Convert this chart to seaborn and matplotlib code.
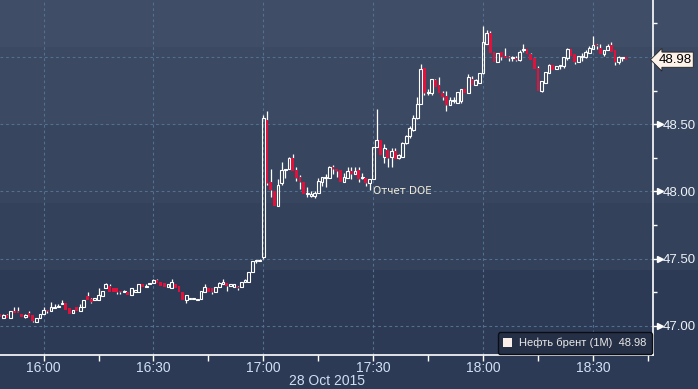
import matplotlib.pyplot as plt
import matplotlib.ticker as mticker
import numpy as np
import pandas as pd
import seaborn as sns
from matplotlib.patches import Patch

# one-minute candles of Brent (1M), 28 Oct 2015, first bar at 15:48
start_time = "2015-10-28 15:48"

open_ = [
    47.09, 47.06, 47.08, 47.06, 47.11, 47.11, 47.09, 47.07, 47.10, 47.08,
    47.03, 47.06, 47.09, 47.12, 47.11, 47.13, 47.14, 47.16, 47.17, 47.13,
    47.10, 47.14, 47.11, 47.14, 47.22, 47.20, 47.19, 47.19, 47.22, 47.28,
    47.30, 47.28, 47.28, 47.26, 47.25, 47.25, 47.23, 47.255, 47.25, 47.31,
    47.29, 47.31, 47.32, 47.34, 47.33, 47.32, 47.29, 47.28, 47.31, 47.30,
    47.25, 47.19, 47.20, 47.20, 47.19, 47.20, 47.25, 47.28, 47.28, 47.25,
    47.29, 47.31, 47.32, 47.30, 47.29, 47.29, 47.29, 47.33, 47.33, 47.40,
    47.48, 47.48, 47.51, 48.53, 48.07, 48.00, 47.89, 48.06, 48.16, 48.17,
    48.25, 48.16, 48.11, 48.07, 47.98, 47.97, 47.97, 47.99, 48.07, 48.10,
    48.10, 48.18, 48.17, 48.16, 48.07, 48.10, 48.15, 48.13, 48.16, 48.10,
    48.10, 48.06, 48.09, 48.33, 48.38, 48.26, 48.31, 48.26, 48.30, 48.25,
    48.26, 48.36, 48.41, 48.46, 48.55, 48.65, 48.92, 48.73, 48.73, 48.83,
    48.79, 48.73, 48.71, 48.64, 48.67, 48.66, 48.67, 48.76, 48.73, 48.84,
    48.79, 48.81, 48.88, 49.10, 49.18, 49.04, 48.96, 49.04, 49.01, 49.00,
    48.99, 48.99, 48.98, 49.05, 49.06, 49.02, 48.99, 48.92, 48.75, 48.81,
    48.88, 48.94, 48.91, 48.93, 48.93, 48.99, 49.06, 49.02, 48.96, 49.00,
    49.00, 49.03, 49.06, 49.09, 49.07, 49.02, 49.05, 49.09, 49.05, 48.96,
    48.99, 49.00,
]
high = [
    47.09, 47.09, 47.09, 47.11, 47.14, 47.14, 47.09, 47.09, 47.11, 47.08,
    47.06, 47.09, 47.14, 47.12, 47.18, 47.16, 47.16, 47.19, 47.17, 47.13,
    47.12, 47.14, 47.16, 47.19, 47.25, 47.21, 47.21, 47.28, 47.26, 47.32,
    47.31, 47.28, 47.28, 47.26, 47.27, 47.25, 47.28, 47.27, 47.31, 47.31,
    47.31, 47.32, 47.35, 47.35, 47.33, 47.32, 47.31, 47.35, 47.31, 47.30,
    47.25, 47.23, 47.21, 47.21, 47.20, 47.26, 47.31, 47.28, 47.28, 47.29,
    47.33, 47.35, 47.32, 47.31, 47.31, 47.30, 47.33, 47.35, 47.40, 47.48,
    47.49, 47.50, 48.57, 48.60, 48.17, 48.00, 48.09, 48.22, 48.17, 48.26,
    48.28, 48.18, 48.12, 48.07, 48.03, 48.00, 48.00, 48.10, 48.11, 48.13,
    48.19, 48.20, 48.17, 48.16, 48.14, 48.18, 48.18, 48.18, 48.18, 48.14,
    48.10, 48.09, 48.33, 48.61, 48.38, 48.35, 48.31, 48.32, 48.32, 48.28,
    48.37, 48.42, 48.49, 48.57, 48.70, 48.95, 48.92, 48.76, 48.84, 48.84,
    48.85, 48.75, 48.75, 48.70, 48.70, 48.74, 48.76, 48.76, 48.87, 48.86,
    48.84, 48.88, 49.23, 49.20, 49.19, 49.04, 49.03, 49.04, 49.07, 49.01,
    49.01, 49.01, 49.05, 49.10, 49.06, 49.03, 48.99, 48.93, 48.82, 48.89,
    48.95, 48.94, 48.93, 48.94, 49.00, 49.07, 49.06, 49.02, 49.01, 49.03,
    49.05, 49.08, 49.16, 49.10, 49.10, 49.05, 49.10, 49.11, 49.05, 49.01,
    49.00, 49.00,
]
low = [
    47.07, 47.06, 47.06, 47.06, 47.10, 47.10, 47.07, 47.06, 47.07, 47.03,
    47.03, 47.06, 47.09, 47.10, 47.11, 47.13, 47.14, 47.16, 47.12, 47.09,
    47.10, 47.11, 47.11, 47.14, 47.19, 47.17, 47.19, 47.19, 47.22, 47.28,
    47.25, 47.25, 47.24, 47.24, 47.25, 47.23, 47.23, 47.25, 47.25, 47.29,
    47.29, 47.31, 47.32, 47.32, 47.30, 47.29, 47.29, 47.28, 47.28, 47.25,
    47.19, 47.17, 47.20, 47.20, 47.19, 47.20, 47.25, 47.25, 47.24, 47.25,
    47.29, 47.31, 47.26, 47.30, 47.29, 47.27, 47.29, 47.33, 47.33, 47.40,
    47.47, 47.48, 47.50, 48.05, 47.96, 47.89, 47.89, 48.05, 48.10, 48.17,
    48.15, 48.08, 48.02, 47.98, 47.96, 47.96, 47.95, 47.99, 48.04, 48.03,
    48.10, 48.13, 48.11, 48.07, 48.07, 48.10, 48.09, 48.13, 48.07, 48.09,
    48.04, 48.01, 48.09, 48.33, 48.27, 48.21, 48.18, 48.18, 48.24, 48.24,
    48.26, 48.35, 48.40, 48.45, 48.54, 48.65, 48.72, 48.72, 48.72, 48.78,
    48.73, 48.68, 48.60, 48.64, 48.66, 48.66, 48.66, 48.73, 48.73, 48.79,
    48.79, 48.81, 48.87, 49.10, 49.03, 48.96, 48.96, 48.98, 48.99, 48.97,
    48.97, 48.97, 48.97, 49.04, 49.02, 48.98, 48.91, 48.75, 48.74, 48.81,
    48.88, 48.90, 48.91, 48.91, 48.92, 48.98, 49.01, 48.95, 48.96, 48.97,
    48.99, 49.03, 49.06, 49.06, 49.02, 49.01, 49.05, 49.04, 48.94, 48.95,
    48.97, 48.98,
]
close = [
    47.07, 47.08, 47.06, 47.11, 47.10, 47.10, 47.07, 47.08, 47.07, 47.04,
    47.06, 47.09, 47.12, 47.11, 47.14, 47.14, 47.15, 47.17, 47.12, 47.09,
    47.12, 47.11, 47.14, 47.19, 47.19, 47.18, 47.21, 47.23, 47.26, 47.31,
    47.25, 47.25, 47.25, 47.25, 47.26, 47.23, 47.28, 47.265, 47.31, 47.29,
    47.30, 47.32, 47.34, 47.32, 47.30, 47.29, 47.31, 47.33, 47.28, 47.25,
    47.19, 47.23, 47.21, 47.205, 47.20, 47.26, 47.29, 47.25, 47.25, 47.29,
    47.32, 47.33, 47.30, 47.31, 47.31, 47.28, 47.33, 47.34, 47.40, 47.48,
    47.49, 47.49, 48.55, 48.06, 48.01, 47.89, 48.05, 48.16, 48.17, 48.25,
    48.15, 48.10, 48.07, 47.98, 47.99, 47.98, 47.99, 48.08, 48.11, 48.11,
    48.18, 48.17, 48.15, 48.07, 48.11, 48.15, 48.13, 48.15, 48.09, 48.11,
    48.06, 48.09, 48.33, 48.38, 48.27, 48.32, 48.25, 48.30, 48.24, 48.27,
    48.36, 48.41, 48.47, 48.55, 48.65, 48.91, 48.73, 48.74, 48.84, 48.78,
    48.73, 48.70, 48.64, 48.68, 48.68, 48.74, 48.76, 48.73, 48.85, 48.79,
    48.83, 48.88, 49.11, 49.18, 49.03, 48.96, 49.03, 49.00, 48.99, 48.99,
    49.00, 48.98, 49.04, 49.06, 49.02, 48.98, 48.91, 48.75, 48.82, 48.89,
    48.94, 48.90, 48.93, 48.94, 49.00, 49.06, 49.01, 48.96, 49.01, 49.01,
    49.04, 49.07, 49.09, 49.08, 49.02, 49.05, 49.08, 49.04, 48.96, 49.00,
    49.00, 48.98,
]

x_ticks = ["16:00", "16:30", "17:00", "17:30", "18:00", "18:30"]
y_ticks = [47.0, 47.5, 48.0, 48.5, 49.0]
y_labels = ["47.00", "47.50", "48.00", "48.50", ""]
series_name = "Нефть брент (1M)"
last_price = "48.98"
date_label = "28 Oct 2015"
event_label = "Отчет DOE"
event_time = "17:30"

sns.set_theme(style="dark")
plt.rcParams["font.family"] = ["Liberation Sans", "DejaVu Sans"]

df = pd.DataFrame({"open": open_, "high": high, "low": low, "close": close})
df["time"] = pd.date_range(start_time, periods=len(df), freq="min")
base = pd.Timestamp("2015-10-28 16:00")
df["x"] = (df["time"] - base).dt.total_seconds() / 60
df["up"] = df["close"] >= df["open"]
df["top"] = df[["open", "close"]].max(axis=1)
df["bot"] = df[["open", "close"]].min(axis=1)
df["h"] = (df["top"] - df["bot"]).clip(lower=0.007)

W, H = 698, 389
fig = plt.figure(figsize=(W / 100, H / 100), dpi=100)
fig.patch.set_facecolor("#2d3a55")

# banded background
bg = fig.add_axes([0, 0, 1, 1], zorder=0)
bg.set_xlim(0, W)
bg.set_ylim(H, 0)
bg.axis("off")
bands = [(0, 47, "#3f4d67"), (47, 125, "#3b4963"), (125, 203, "#37455f"),
         (203, 270, "#33415b"), (270, H, "#2d3a55")]
for y0, y1, c in bands:
    bg.axhspan(y0, y1, color=c, lw=0)

ax = fig.add_axes([0, 34 / H, 653 / W, 1 - 34 / H], zorder=1)
ax.set_facecolor("none")

grid_kw = dict(color="#52708f", lw=0.8, dashes=(2.5, 2.5), zorder=1)
for v in y_ticks:
    ax.axhline(v, **grid_kw)
for i in range(len(x_ticks)):
    ax.axvline(i * 30, **grid_kw)

up = df[df["up"]]
dn = df[~df["up"]]
bw = 0.75
# wicks, split around the body so hollow candles stay hollow
ax.vlines(df["x"], df["top"], df["high"], color="white", lw=0.9, zorder=2)
ax.vlines(df["x"], df["low"], df["bot"], color="white", lw=0.9, zorder=2)
ax.bar(up["x"], up["h"], bottom=up["bot"], width=bw, facecolor="none",
       edgecolor="white", linewidth=0.8, zorder=3)
ax.bar(dn["x"], dn["h"], bottom=dn["bot"], width=bw, color="#e0123c",
       linewidth=0, zorder=3)

ax.set_xlim(-11.9, 166.4)
ax.set_ylim(46.784, 49.424)

for s in ["left", "top"]:
    ax.spines[s].set_visible(False)
for s in ["right", "bottom"]:
    ax.spines[s].set_color("white")
    ax.spines[s].set_linewidth(1.2)

ax.set_xticks([i * 30 for i in range(len(x_ticks))])
ax.set_xticklabels(x_ticks)
ax.xaxis.set_minor_locator(mticker.MultipleLocator(15))
ax.tick_params(axis="x", which="both", direction="out", length=4, width=1,
               color="white", labelcolor="#cfe0f4", labelsize=10, pad=0.5,
               bottom=True)

ax.yaxis.tick_right()
ax.set_yticks(y_ticks)
ax.set_yticklabels(y_labels)
ax.yaxis.set_minor_locator(mticker.MultipleLocator(0.25))
ax.tick_params(axis="y", which="both", direction="out", length=3, width=1,
               color="white", labelcolor="#eef2f7", labelsize=9.5, pad=4,
               right=True, left=False)
ax.plot([1.011] * 4, y_ticks[:4], ">", color="white", ms=4,
        transform=ax.get_yaxis_transform(), clip_on=False, zorder=5)
ax.grid(False)

# event note
ev_x = (pd.Timestamp("2015-10-28 " + event_time) - base).total_seconds() / 60
ax.text(ev_x, 48.0, event_label, color="#f2ecd9", fontsize=7.5,
        family="DejaVu Sans", ha="left", va="center", zorder=4)

# last price tag
ax.annotate(last_price, xy=(1.0, float(close[-1])),
            xycoords=("axes fraction", "data"), xytext=(4, 0),
            textcoords="offset points", ha="left", va="center", fontsize=9.5,
            color="black", annotation_clip=False, zorder=6,
            bbox=dict(boxstyle="larrow,pad=0.12", fc="#fdf3ea",
                      ec="#222222", lw=0.6))

leg = ax.legend(handles=[Patch(facecolor="#fcefe9", edgecolor="none",
                               label=f"{series_name}  {last_price}")],
                loc="lower right", bbox_to_anchor=(1.0, 0.0),
                borderaxespad=0.1, frameon=True, fancybox=True,
                handlelength=0.8, handleheight=0.8, handletextpad=0.6,
                fontsize=8, labelcolor="#e8e8e8", borderpad=0.5)
leg.get_frame().set_facecolor("#252f46")
leg.get_frame().set_edgecolor("#0a0d14")
leg.get_frame().set_alpha(1)
leg.set_zorder(7)

fig.text(327 / W, 1 - 381 / H, date_label, color="#cfe0f4", fontsize=10,
         ha="center", va="center")

fig.savefig("out.png", dpi=100, facecolor=fig.get_facecolor())
